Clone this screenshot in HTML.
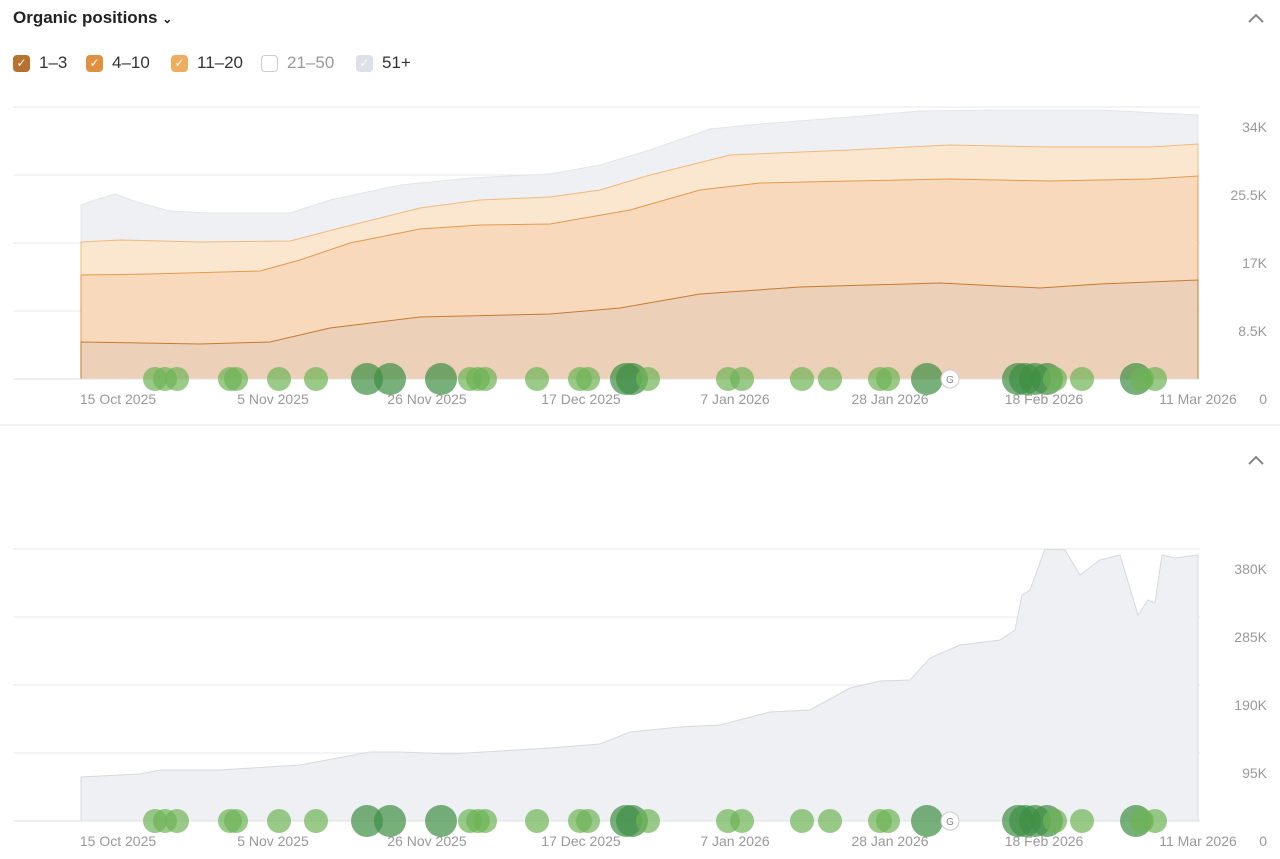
<!DOCTYPE html><html><head><meta charset="utf-8"><style>
body{margin:0;background:#fff;font-family:"Liberation Sans",sans-serif;}
.t{position:absolute;left:13px;top:8px;font-size:17px;font-weight:bold;color:#222}
.lg{position:absolute;top:53px;font-size:17px;color:#333;display:flex;align-items:center}
.cb{width:17px;height:17px;border-radius:4px;display:inline-block;margin-right:9px;color:#fff;font-size:12px;text-align:center;line-height:17px;box-sizing:border-box}
</style></head><body>
<div style="position:relative;width:1280px;height:859px;overflow:hidden">
<div class="t">Organic positions <span style="font-size:12px">⌄</span></div>
<div class="lg" style="left:13px"><span class="cb" style="background:#b8712f">✓</span>1–3</div>
<div class="lg" style="left:86px"><span class="cb" style="background:#e0913f">✓</span>4–10</div>
<div class="lg" style="left:171px"><span class="cb" style="background:#eeac5e">✓</span>11–20</div>
<div class="lg" style="left:261px;color:#999"><span class="cb" style="border:1.5px solid #ccc"></span>21–50</div>
<div class="lg" style="left:356px"><span class="cb" style="background:#dde0e6">✓</span>51+</div>
<svg width="1280" height="859" style="position:absolute;left:0;top:0" font-family="Liberation Sans" font-size="14" fill="#999">
<polyline points="1249,22 1256,15 1263,22" fill="none" stroke="#888" stroke-width="2"/>
<polyline points="1249,464 1256,457 1263,464" fill="none" stroke="#888" stroke-width="2"/>
<g stroke="#e8e8ea"><line x1="13" x2="1200" y1="107" y2="107"/><line x1="13" x2="1200" y1="175" y2="175"/><line x1="13" x2="1200" y1="243" y2="243"/><line x1="13" x2="1200" y1="311" y2="311"/>
<line x1="13" x2="1200" y1="549" y2="549"/><line x1="13" x2="1200" y1="617" y2="617"/><line x1="13" x2="1200" y1="685" y2="685"/><line x1="13" x2="1200" y1="753" y2="753"/></g>
<line x1="0" x2="1280" y1="425" y2="425" stroke="#e4e4e4"/>
<path d="M81,379 L81,205 95,200 115,194 140,203 170,211 210,213 290,213 330,200 400,185 470,178 550,174 600,165 650,150 710,129 760,124 850,117 920,111 1000,110 1100,110 1198,115 L1198,379Z" fill="#eef0f3" stroke="#e2e5ea"/>
<path d="M81,379 L81,242 120,240 200,242 290,241 340,228 420,208 480,200 550,197 600,190 650,175 730,155 850,150 950,145 1050,147 1150,147 1198,144 L1198,379Z" fill="#fbe6cf" stroke="#f0b97e"/>
<path d="M81,379 L81,275 150,274 260,271 300,260 350,243 420,229 480,225 550,224 630,210 700,190 760,183 850,181 950,179 1050,181 1150,179 1198,176 L1198,379Z" fill="#f8d9bb" stroke="#e39a4d"/>
<path d="M81,379 L81,342 200,344 270,342 330,328 420,317 550,314 620,308 700,294 800,287 940,283 1040,288 1100,284 1198,280 L1198,379Z" fill="#edd0b8" stroke="#c47a35"/>
<path d="M81,821 L81,777 140,774 160,770 220,770 300,765 370,752 400,752 450,754 550,748 600,744 630,732 680,727 720,725 770,712 810,710 850,688 880,681 910,680 930,658 960,645 1000,640 1015,630 1022,595 1030,590 1045,549 1065,550 1080,575 1100,560 1120,555 1138,615 1148,600 1155,603 1162,555 1175,558 1198,555 L1198,821Z" fill="#eff0f4" stroke="#d6d9e0"/>
<line x1="13" x2="1200" y1="379" y2="379" stroke="#e0e0e0"/><line x1="13" x2="1200" y1="821" y2="821" stroke="#e0e0e0"/>
<g text-anchor="end"><text x="1267" y="132">34K</text><text x="1267" y="200">25.5K</text><text x="1267" y="268">17K</text><text x="1267" y="336">8.5K</text><text x="1267" y="404">0</text>
<text x="1267" y="574">380K</text><text x="1267" y="642">285K</text><text x="1267" y="710">190K</text><text x="1267" y="778">95K</text><text x="1267" y="846">0</text></g>
<g text-anchor="middle" id="d"><text x="118" y="404">15 Oct 2025</text><text x="273" y="404">5 Nov 2025</text><text x="427" y="404">26 Nov 2025</text><text x="581" y="404">17 Dec 2025</text><text x="735" y="404">7 Jan 2026</text><text x="890" y="404">28 Jan 2026</text><text x="1044" y="404">18 Feb 2026</text><text x="1198" y="404">11 Mar 2026</text></g>
<use href="#d" y="442"/>
<g id="b" fill="#6db356" fill-opacity="0.7">
<circle cx="155" cy="379" r="12"/><circle cx="165" cy="379" r="12"/><circle cx="177" cy="379" r="12"/><circle cx="230" cy="379" r="12"/><circle cx="236" cy="379" r="12"/><circle cx="279" cy="379" r="12"/><circle cx="316" cy="379" r="12"/>
<circle cx="367" cy="379" r="16" fill="#3f8f45"/><circle cx="390" cy="379" r="16" fill="#3f8f45"/><circle cx="441" cy="379" r="16" fill="#3f8f45"/>
<circle cx="470" cy="379" r="12"/><circle cx="478" cy="379" r="12"/><circle cx="485" cy="379" r="12"/><circle cx="537" cy="379" r="12"/><circle cx="580" cy="379" r="12"/><circle cx="588" cy="379" r="12"/>
<circle cx="626" cy="379" r="16" fill="#3f8f45"/><circle cx="632" cy="379" r="16" fill="#3f8f45"/><circle cx="648" cy="379" r="12"/>
<circle cx="728" cy="379" r="12"/><circle cx="742" cy="379" r="12"/><circle cx="802" cy="379" r="12"/><circle cx="830" cy="379" r="12"/><circle cx="880" cy="379" r="12"/><circle cx="888" cy="379" r="12"/>
<circle cx="927" cy="379" r="16" fill="#3f8f45"/>
<circle cx="1018" cy="379" r="16" fill="#3f8f45"/><circle cx="1025" cy="379" r="16" fill="#3f8f45"/><circle cx="1035" cy="379" r="16" fill="#3f8f45"/><circle cx="1047" cy="379" r="16" fill="#3f8f45"/><circle cx="1055" cy="379" r="12"/><circle cx="1082" cy="379" r="12"/>
<circle cx="1136" cy="379" r="16" fill="#3f8f45"/><circle cx="1142" cy="379" r="12"/><circle cx="1155" cy="379" r="12"/>
<circle cx="950" cy="379" r="9" fill="#fff" fill-opacity="1" stroke="#ccc"/><text x="950" y="383" font-size="10" text-anchor="middle" fill="#888" fill-opacity="1">G</text>
</g>
<use href="#b" y="442"/>
</svg></div></body></html>
